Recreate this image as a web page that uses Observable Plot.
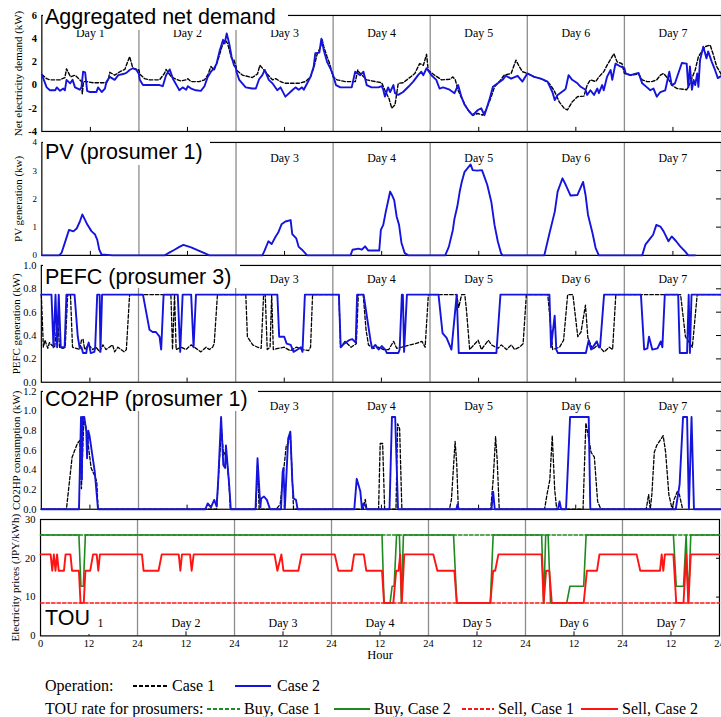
<!DOCTYPE html>
<html><head><meta charset="utf-8">
<script src="https://cdn.jsdelivr.net/npm/d3@7"></script>
<script src="https://cdn.jsdelivr.net/npm/@observablehq/plot@0.6"></script>
<style>
html,body{margin:0;padding:0;background:#fff;width:721px;height:717px;overflow:hidden;}
#chart{position:relative;width:721px;height:717px;overflow:hidden;background:#fff;}
.panel{position:absolute;left:0;}
.ttl{position:absolute;background:#fff;font-family:"Liberation Sans",Arial,sans-serif;font-size:21.5px;line-height:24px;color:#000;white-space:nowrap;box-sizing:border-box;padding-left:2.5px;}
.leg{position:absolute;font-family:"Liberation Serif","Times New Roman",serif;font-size:16px;line-height:20px;height:20px;white-space:nowrap;color:#000;}
.legsw{position:absolute;display:block;}
</style></head><body><div id="chart"></div><script>
// ---------------- data ----------------
const dayNames = ["Day 1","Day 2","Day 3","Day 4","Day 5","Day 6","Day 7"];
const dayCenters = [12,36,60,84,108,132,156];
const daySeparators = [24,48,72,96,120,144];
const xTickHours = [0,12,24,36,48,60,72,84,96,108,120,132,144,156,168];
const xTickLabels = ["0","12","24","12","24","12","24","12","24","12","24","12","24","12","24"];

// Aggregated net demand (kW): [hour, value]
const netCase1 = [[0,0.9],[1.2,0.55],[2,0.45],[4.5,0.45],[5.7,0.65],[6.1,1.4],[7.1,0.7],[8.2,0.85],[9.4,0.45],[9.8,0.3],[10.0,-0.75],[10.3,0.3],[11.1,0.3],[12.7,0.2],[16,0.2],[16.4,0.45],[16.8,1.1],[18,0.85],[19.3,1.15],[20.5,1.35],[21.7,2.45],[22.5,1.45],[24,1.3],
[24.2,0.95],[25.4,0.55],[26.6,0.45],[29.1,0.45],[30.3,1.0],[30.7,1.35],[32,0.7],[33.2,0.5],[34.4,0.35],[35.7,0.45],[36.1,0.55],[36.9,0.3],[38.9,0.3],[40.2,0.45],[41,0.85],[41.8,1.6],[42.6,1.3],[43.4,2.0],[44.5,3.3],[45.3,3.9],[45.9,3.6],[46.9,2.3],[47.5,2.15],[48,1.6],
[48.1,1.3],[49.6,0.85],[52,0.65],[53.3,0.95],[53.9,1.7],[54.9,1.3],[55.7,0.95],[57,0.45],[57.8,0.55],[59,0.3],[60.2,0.15],[63.5,0.15],[65.2,0.3],[66.4,0.7],[67.2,1.45],[68,2.6],[68.9,3.3],[69.3,3.9],[69.7,3.3],[70.5,2.45],[71.1,1.9],[72,0.7],
[73,0.45],[75,0.3],[77.5,0.3],[78.1,1.3],[78.3,1.15],[80.3,0.45],[82.4,0.3],[84,0.2],[84.8,-0.45],[85.8,-1.15],[86.5,-2.0],[87.3,-1.7],[88.1,0.15],[89.3,0.2],[90.6,0.55],[92.2,1.0],[93.4,1.85],[94.3,1.7],[95.1,2.65],[95.5,1.3],[96,1.15],
[97.1,0.85],[98.8,0.45],[100.8,0.5],[101.6,0.7],[102.2,0.45],[102.9,-0.45],[103.8,-1.15],[105.3,-2.15],[106.5,-2.6],[107.8,-2.45],[109,-2.6],[109.8,-2.15],[111.1,-1.0],[111.9,-0.15],[113.1,0.3],[114.3,0.85],[116,1.0],[117.2,2.15],[118,1.6],[118.8,1.15],[120,1.0],
[121.7,0.7],[123.8,0.5],[125.4,0.15],[126.6,-0.45],[127.9,-1.45],[129.1,-2.0],[129.9,-2.15],[131.1,-1.45],[132.4,-1.0],[134,-0.95],[134.8,0],[135.6,0.45],[136.9,0.3],[137.7,0.7],[138.9,1.15],[139.7,1.7],[141.4,2.7],[142.2,2.0],[143.4,1.85],[144,1.0],
[145.5,0.85],[147.5,0.95],[148.4,0.45],[149.6,0.3],[150.8,0.3],[152,0.45],[152.9,0.85],[153.7,1.0],[154.9,0.5],[155.7,0],[157,-0.3],[159.4,-0.4],[160.2,0.15],[161.5,1.3],[162.3,2.45],[163.9,3.3],[165.2,3.45],[166,2.6],[166.8,1.6],[168,0.9]];

const netCase2 = [[0,0.9],[1.2,-0.2],[2,-0.45],[3.3,-0.45],[3.7,-0.2],[4.5,-0.5],[5.3,-0.3],[5.7,-0.45],[6.1,0.45],[7.0,0.15],[7.6,0.45],[8.2,-0.2],[9.4,-0.4],[9.8,-0.2],[10.2,1.15],[10.7,1.1],[11.2,-0.5],[11.9,-0.6],[13.5,-0.6],[13.9,-0.2],[14.8,-0.6],[15.6,-0.3],[16,0.3],[16.8,0.7],[18,0.45],[18.9,0.85],[20.1,0.95],[20.9,1.05],[21.7,1.3],[22.5,1.45],[23.4,1.3],[24,0.95],
[24.2,0.45],[25,0],[29.1,0],[29.9,-0.1],[30.7,0.85],[31.6,1.35],[32.4,0.55],[33.6,-0.2],[34.0,-0.45],[34.8,-0.2],[35.7,-0.4],[36.1,-0.1],[36.9,-0.3],[38.1,-0.45],[39.3,-0.5],[40.2,-0.1],[41,0.7],[41.8,1.15],[42.6,1.45],[43.2,1.85],[44,3.0],[44.8,3.9],[45.2,3.6],[45.7,4.45],[46.3,3.6],[46.9,2.45],[47.5,1.7],[48,1.45],
[48.1,1.15],[48.8,0.45],[50.4,-0.2],[52,-0.3],[52.9,-0.3],[53.7,0.5],[54.5,0.85],[55.1,1.3],[56.1,0.45],[57,0.15],[58.2,-0.45],[59,-0.2],[60.2,-1.0],[61.9,-0.45],[62.7,-0.2],[63.5,-0.4],[64.3,-0.2],[64.75,-0.4],[65.6,0.15],[66.4,0.7],[67.2,1.6],[67.6,2.75],[68.6,2.8],[69.1,4.0],[69.7,3.0],[70.5,2.0],[71.3,1.45],[72,0.85],
[72.7,0],[73.8,-0.2],[76.6,-0.2],[77.45,1.15],[78.7,0.85],[79.5,1.15],[80.3,0],[81.5,-0.2],[83.2,-0.2],[84.0,-0.1],[84.4,-0.4],[84.8,-1.0],[85.6,-0.2],[86.1,-0.6],[86.9,0],[87.3,-0.7],[88.1,-0.85],[89.3,-0.6],[90.6,-0.15],[91.8,0.3],[93.0,0.85],[93.8,1.15],[94.3,0.85],[95.1,1.45],[96,1.0],
[96.3,0.85],[97.5,0.45],[98.3,-0.3],[99.2,-0.2],[100.8,-0.4],[102,-0.7],[102.9,0],[103.7,-1.0],[104.5,-1.7],[105.7,-2.3],[106.5,-2.6],[107.8,-2.15],[108.6,-2.0],[109.4,-2.6],[110.6,-1.3],[111.5,-0.15],[112.7,0.15],[113.9,0.45],[114.7,0.8],[116,0.55],[117.6,0.8],[118.8,0.3],[120,1.0],
[121.7,0.7],[123.35,0.55],[125,0.3],[126.2,-0.6],[126.8,-1.3],[127.5,-0.85],[129.1,-0.45],[129.5,-0.3],[130.2,0.85],[131.1,0.45],[132.4,0.15],[133.2,-0.15],[134.4,-0.4],[134.8,-0.85],[135.6,-0.45],[136.5,-0.85],[137.3,-0.3],[137.7,-0.7],[138.5,0],[138.9,-0.45],[139.7,0.7],[140.6,1.3],[141,0.45],[141.8,1.85],[143,1.6],[144,1.45],
[144.3,1.0],[145.5,0.85],[147.5,1.05],[148.4,0.15],[149.6,-0.2],[150.4,-0.45],[151.2,-0.3],[152,-1.0],[152.9,-0.6],[154.1,-0.45],[155.1,1.15],[155.7,0],[156.5,0.15],[158.2,1.9],[159.4,1.85],[159.8,-0.2],[160.2,1.6],[160.7,-0.4],[161.1,0.45],[161.5,0],[162,1.0],[162.3,-0.15],[162.7,2.15],[163.5,3.3],[164.3,2.3],[164.7,2.9],[165.6,2.0],[166.4,1.3],[167.1,0.6],[168,0.8]];

// PV generation, prosumer 1 (kW)
const pvCase2 = [[0,0],[4.3,0],[4.9,0.1],[5.7,0.45],[6.7,0.9],[7.8,0.85],[8.6,0.95],[9.4,1.2],[10.0,1.45],[10.7,1.25],[11.2,1.1],[12.3,0.85],[13.1,0.75],[13.7,0.55],[14.2,0.2],[14.75,0.03],[17.6,0],
[30.4,0],[31.5,0.1],[32.8,0.2],[34,0.3],[35,0.37],[36.9,0.28],[38.9,0.16],[40.2,0.08],[41.4,0],
[54.5,0],[55.0,0.15],[56.0,0.5],[56.8,0.4],[57.8,0.67],[58.4,0.8],[59.25,1.1],[60.2,1.2],[61.5,1.25],[61.9,0.75],[62.9,0.6],[63.5,0.3],[64.3,0.2],[65.6,0],
[76.3,0],[76.8,0.2],[78.27,0.24],[79.1,0.2],[79.9,0.32],[80.7,0.17],[83.4,0.17],[83.8,0.9],[84.4,1.08],[85,1.53],[85.65,1.96],[86.1,2.26],[86.5,2.15],[87.1,1.96],[87.7,1.38],[88.3,1.08],[88.9,0.44],[89.7,0.08],[90.6,0],
[99.7,0],[100.6,0.3],[101.6,0.9],[102.0,1.3],[102.7,1.73],[103.3,2.26],[103.8,2.6],[104.5,2.96],[105.3,3.1],[106,3.22],[106.5,3.02],[107.6,3.0],[108.8,3.02],[109.4,2.78],[110.1,2.5],[111.1,1.9],[111.9,1.08],[112.7,0.5],[113.5,0.08],[113.9,0],
[124.2,0],[125.4,0.73],[126.8,1.55],[127.5,2.26],[128.7,2.73],[129.5,2.5],[130.7,2.12],[132.4,2.14],[133.8,2.6],[134.4,2.14],[135,1.44],[136.1,0.8],[136.9,0.26],[137.7,0],
[148.4,0],[149.2,0.38],[150.4,0.6],[151.1,0.73],[151.9,1.08],[152.9,1.02],[153.7,0.85],[154.9,0.5],[155.7,0.67],[156.8,0.5],[157.8,0.32],[159,0.14],[159.8,0],[161.5,0]];

// PEFC generation, prosumer 3 (kW)
const pefcCase1 = [[0,0.75],[0.5,0.3],[0.9,0.36],[1.6,0.29],[2.0,0.34],[2.5,0.32],[3.3,0.3],[4.0,0.55],[4.5,0.3],[5.3,0.29],[5.9,0.3],[6.5,0.75],[7.2,0.75],[7.7,0.3],[9.5,0.28],[9.9,0.36],[10.3,0.37],[10.7,0.28],[11.7,0.32],[12.7,0.28],[13.5,0.3],[14.4,0.26],[15.2,0.32],[16.0,0.28],[16.8,0.3],[17.6,0.32],[18.1,0.26],[18.9,0.3],[19.7,0.28],[20.5,0.26],[21.0,0.28],[21.8,0.75],
[32.0,0.75],[32.4,0.28],[32.9,0.75],[33.3,0.28],[34.5,0.3],[35.7,0.28],[37.0,0.32],[38.2,0.29],[39.4,0.26],[40.7,0.3],[41.5,0.28],[42.3,0.3],[42.7,0.33],[43.5,0.75],
[50.5,0.75],[50.9,0.39],[52.2,0.32],[53.4,0.3],[54.3,0.29],[54.9,0.75],[55.3,0.75],[55.8,0.28],[56.5,0.3],[56.9,0.75],[57.3,0.28],[58.5,0.29],[60.0,0.3],[61.5,0.27],[63.0,0.3],[64.5,0.28],[66.0,0.27],[66.5,0.3],[67.0,0.75],
[73.5,0.75],[73.9,0.3],[75.0,0.35],[76.5,0.3],[77.8,0.33],[78.3,0.75],[79.5,0.75],[80.2,0.45],[80.8,0.32],[82.0,0.29],[83.3,0.3],[84.5,0.28],[85.8,0.28],[87.0,0.35],[87.8,0.29],[89.0,0.3],[91.1,0.32],[92.4,0.33],[94.0,0.35],[94.8,0.3],[95.6,0.75],
[102.6,0.75],[103.1,0.64],[103.8,0.75],[104.6,0.75],[105.0,0.62],[105.8,0.28],[107.9,0.36],[108.7,0.28],[110.4,0.36],[111.2,0.32],[112.8,0.29],[113.6,0.32],[114.9,0.28],[116.1,0.32],[116.9,0.28],[118.1,0.3],[119.0,0.33],[119.8,0.75],
[125.1,0.75],[126.3,0.28],[128.0,0.3],[129.0,0.36],[130.0,0.75],[131.3,0.75],[132.5,0.39],[133.3,0.43],[134.4,0.66],[135.0,0.38],[136.2,0.28],[137.4,0.32],[139.0,0.26],[140.3,0.3],[141.1,0.28],[141.9,0.75],
[157.9,0.75],[159.1,0.39],[160.8,0.3],[162.0,0.75],[168,0.75]];

const pefcCase2 = [[0,0.75],[2.5,0.75],[3.0,0.3],[3.5,0.75],[3.9,0.3],[4.3,0.75],[4.8,0.3],[5.75,0.3],[6.2,0.75],[8.2,0.75],[9.0,0.39],[9.45,0.3],[9.9,0.3],[10.3,0.25],[11.1,0.25],[11.3,0.3],[11.7,0.34],[12.2,0.25],[13.1,0.26],[13.3,0.3],[13.8,0.75],[14.4,0.75],[14.6,0.26],[15.0,0.75],
[25.1,0.75],[25.9,0.6],[26.7,0.45],[27.5,0.43],[28.3,0.43],[29.2,0.39],[29.6,0.28],[30.2,0.75],[33.7,0.75],[34.3,0.26],[34.9,0.75],[37.0,0.75],[37.6,0.3],[38.2,0.75],
[58.3,0.75],[58.75,0.39],[60.0,0.39],[60.6,0.33],[61.6,0.32],[62.3,0.26],[63.3,0.28],[64.1,0.3],[64.5,0.26],[65.1,0.75],
[73.5,0.75],[73.95,0.3],[74.8,0.33],[76.0,0.36],[76.8,0.37],[77.65,0.34],[78.0,0.75],[79.6,0.75],[81.3,0.36],[81.7,0.29],[82.5,0.32],[83.3,0.28],[84.1,0.31],[84.95,0.28],[85.35,0.25],[88.2,0.25],[88.5,0.28],[89.05,0.75],[89.3,0.75],[89.6,0.26],[90.3,0.75],
[98.1,0.75],[99.1,0.42],[100.1,0.38],[101.3,0.28],[102.6,0.75],[103.1,0.25],[112.4,0.25],[113.4,0.75],
[125.5,0.75],[125.9,0.3],[126.8,0.57],[127.2,0.28],[127.6,0.25],[134.5,0.25],[135.2,0.36],[135.8,0.28],[137.2,0.35],[137.7,0.3],[138.0,0.3],[139.0,0.75],
[148.1,0.75],[148.9,0.28],[149.7,0.29],[150.1,0.39],[150.9,0.28],[152.2,0.29],[153.0,0.35],[153.4,0.3],[154.0,0.75],[157.3,0.75],[157.7,0.25],[159.5,0.25],[159.9,0.75],[160.2,0.25],[160.6,0.75],[168,0.75]];

// CO2HP consumption, prosumer 1 (kW)
const hpCase1 = [[0,0],[6.2,0],[7.6,0.53],[8.9,0.67],[9.5,0.7],[9.9,0.21],[10.5,0.92],[11.1,0.82],[12.3,0.42],[13.1,0.35],[13.7,0.28],[14.0,0],
[43.3,0],[44.0,0.5],[44.5,0.82],[45.0,0.55],[45.6,0.6],[46.3,0.3],[46.7,0],
[53.0,0],[53.4,0.45],[53.8,0],[58.0,0],[59.0,0.05],[60.5,0.65],[61.0,0.67],[61.5,0.79],[62.3,0],
[79.5,0],[80.0,0.1],[80.4,0],[83.3,0],[83.7,0.67],[84.3,0.67],[84.8,0],[87.6,0],[88.0,0.87],[88.5,0.82],[89.05,0],
[100.8,0],[101.3,0.1],[102.2,0.69],[102.6,0.47],[103.0,0],[111.0,0],[111.6,0.3],[112.2,0.74],[112.6,0.5],[113.1,0],
[124.3,0],[124.9,0.15],[125.6,0.3],[126.2,0.75],[126.8,0.2],[127.3,0],[133.8,0],[134.5,0.88],[135.8,0.58],[136.6,0.53],[137.4,0.08],[138.2,0],
[149.4,0],[150.0,0.15],[150.4,0],[150.8,0.15],[151.4,0.58],[152.0,0.65],[152.8,0.7],[153.6,0.75],[154.2,0.58],[155.0,0.15],[155.8,0],[156.3,0.1],[157.1,0.18],[157.6,0.15],[158.4,0]];

const hpCase2 = [[0,0],[9.3,0],[9.8,0.94],[10.0,0.3],[10.2,0.94],[10.6,0.94],[11.1,0.8],[11.3,0.52],[11.6,0.8],[11.9,0.75],[12.5,0.58],[13.2,0.38],[14.0,0],
[40.5,0],[41.1,0.06],[41.9,0.02],[42.7,0.095],[43.3,0.03],[43.7,0.3],[44.4,0.94],[44.95,0.45],[45.4,0.42],[45.6,0.65],[46.0,0.45],[46.4,0.25],[46.8,0],
[52.9,0],[53.4,0.52],[54.1,0.02],[54.3,0.11],[55.0,0.13],[55.7,0.095],[56.5,0],[59.2,0],[59.6,0.38],[59.8,0.42],[60.15,0.01],[60.97,0.72],[61.5,0.79],[62.0,0.28],[62.3,0.11],[62.9,0.095],[63.3,0],
[77.3,0],[77.9,0.31],[78.8,0.18],[79.2,0],[79.6,0.06],[80.0,0.04],[80.4,0],[86.0,0],[86.6,0.94],[87.4,0.94],[88.1,0],
[102.5,0],[102.8,0.05],[103.1,0],[111.2,0],[111.6,0.18],[112.0,0],
[127.6,0],[128,0.08],[128.4,0],[129.6,0],[130.6,0.94],[135.2,0.94],[135.6,0],
[156.7,0],[157.65,0.25],[158.5,0.94],[159.5,0.94],[159.95,0],[160.6,0.94],[161.2,0],[168,0]];

// TOU electricity prices (JPY/kWh)
const buyCase1 = [[0,26],[168,26]];
const sellCase1 = [[0,8.5],[168,8.5]];
const buyCase2 = [[0,26],[9.5,26],[10.0,12.8],[10.6,12.8],[11.1,26],[84.5,26],[85.0,8.5],[86.5,8.5],[87.0,12.8],[87.5,12.8],[88.1,26],[88.8,26],[89.3,8.5],[89.8,26],
[102.2,26],[103.0,8.5],[111.3,8.5],[112.0,26],[124.0,26],[124.5,8.5],[125.0,26],[125.6,26],[126.2,8.5],[130.2,8.5],[131.0,12.8],[134.4,12.8],[135.0,26],
[156.6,26],[157.3,12.8],[159.1,12.8],[159.75,26],[160.3,8.5],[160.9,26],[168,26]];
const sellCase2 = [[0,21],[2.5,21],[2.9,16.8],[3.3,21],[3.7,16.8],[4.1,21],[4.5,16.8],[5.8,16.8],[6.2,21],[7.4,21],[7.8,16.8],[9.5,16.8],[9.9,8.5],[10.7,8.5],[11.1,16.8],[12.3,16.8],[13.0,21],[13.9,21],[14.3,16.8],[14.7,21],
[25.1,21],[25.5,16.8],[29.2,16.8],[30.0,21],[34.2,21],[34.6,16.8],[35.0,21],[37.0,21],[37.4,16.8],[37.9,21],
[57.9,21],[58.6,16.8],[59.6,21],[60.1,16.8],[63.8,16.8],[64.6,21],[72.8,21],[73.7,16.8],[77.0,16.8],[77.6,21],[80.0,21],[80.6,16.8],[84.5,16.8],[85.0,8.5],[87.3,8.5],[88.0,16.8],[88.6,16.8],[89.0,21],[89.4,8.5],[90.0,21],
[97.2,21],[98.2,16.8],[102.4,16.8],[103.0,8.5],[111.3,8.5],[112.0,16.8],[112.5,16.8],[113.3,21],[124.0,21],[124.5,8.5],[125.1,16.8],[125.9,16.8],[126.5,8.5],[134.4,8.5],[135.2,16.8],[137.7,16.8],[138.3,21],
[147.5,21],[148.4,16.8],[153.3,16.8],[153.7,21],[154.1,16.8],[154.5,21],[156.6,21],[157.3,8.5],[159.1,8.5],[159.75,21],[160.3,8.5],[160.9,21],[168,21]];

const legendOperationHead = "Operation:";
const legendOperation = ["Case 1","Case 2"];
const legendTouHead = "TOU rate for prosumers:";
const legendTou = ["Buy, Case 1","Buy, Case 2","Sell, Case 1","Sell, Case 2"];

// ---------------- styles ----------------
const BLUE = "#1414dc", BLACK = "#000", GREEN = "#1f8a1f", RED = "#ff1414";
const rows = pairs => pairs.map(([h, v]) => ({h, v}));
const chart = document.getElementById("chart");
const FONT = "'Liberation Serif','Times New Roman',serif";

function makePanel(cfg) {
  const mt = 12, mb = cfg.mb ?? 6;
  const height = cfg.frameBottom - cfg.frameTop + mt + mb;
  const [y0, y1] = cfg.yDomain;
  const span = y1 - y0;
  const xRight = cfg.xRight ?? 724;
  const pxPerHour = (xRight - cfg.xLeft) / 168;
  const shown = dayNames.map((d, i) => i).filter(i => !(cfg.hiddenDays || []).includes(i));
  const marks = [
    Plot.ruleX(daySeparators, {x: d => d, stroke: "#8c8c8c", strokeWidth: 1.3}),
    Plot.ruleX(dayCenters, {x: d => d, y1: y0, y2: y0 + span * 0.035, stroke: "#000", strokeWidth: 1}),
    Plot.ruleY(cfg.rightTicks || [], {y: d => d, x1: 168 - cfg.rightTickPx / pxPerHour, x2: 168, stroke: "#000", strokeWidth: 1}),
    Plot.frame({stroke: "#000", strokeWidth: 1.2}),
    Plot.text(cfg.yTicks, {y: d => d, frameAnchor: "left", dx: -5, textAnchor: "end", lineAnchor: "middle", text: cfg.fmt, fontSize: cfg.tickFont, fontWeight: cfg.bold ? "bold" : "normal", fill: "#000"}),
    Plot.text([cfg.yLabel], {frameAnchor: "left", rotate: -90, dx: cfg.labelDx, textAnchor: "middle", lineAnchor: "middle", text: d => d, fontSize: 11, fill: "#000"}),
    Plot.text(shown, {x: i => dayCenters[i], frameAnchor: cfg.dayAnchor, dy: cfg.dayDy, textAnchor: "middle", lineAnchor: "middle", text: i => dayNames[i], fontSize: 12, fill: "#000"}),
    ...cfg.lines.map(l => Plot.line(rows(l.data), {x: "h", y: "v", stroke: l.stroke, strokeWidth: l.width, strokeDasharray: l.dash, curve: "linear"})),
    ...(cfg.extra || [])
  ];
  const svg = Plot.plot({
    width: cfg.width ?? 724,
    height,
    marginLeft: cfg.xLeft,
    marginRight: (cfg.width ?? 724) - xRight,
    marginTop: mt,
    marginBottom: mb,
    x: {domain: [0, 168], axis: null, label: null},
    y: {domain: cfg.yDomain, axis: null, label: null},
    style: {fontFamily: FONT, overflow: "visible", background: "transparent", color: "#000"},
    marks
  });
  const div = document.createElement("div");
  div.className = "panel";
  div.style.top = (cfg.frameTop - mt) + "px";
  div.appendChild(svg);
  chart.appendChild(div);
}

function addTitle(text, left, top, width, height, padTop) {
  const d = document.createElement("div");
  d.className = "ttl";
  d.style.left = left + "px"; d.style.top = top + "px";
  d.style.width = width + "px"; d.style.height = height + "px";
  d.style.paddingTop = padTop + "px";
  d.textContent = text;
  chart.appendChild(d);
}

const f1 = d3.format(".1f");
// Panel 1: Aggregated net demand
makePanel({frameTop: 15, frameBottom: 131.5, xLeft: 41.5, yDomain: [-4, 6], yTicks: [-4,-2,0,2,4,6], fmt: d => String(d), tickFont: 10.5, bold: true,
  yLabel: "Net electricity demand (kW)", labelDx: -23.5, dayAnchor: "top", dayDy: 17.3, rightTicks: [], rightTickPx: 5,
  lines: [{data: netCase1, stroke: BLACK, width: 1.4, dash: "3.5,2"}, {data: netCase2, stroke: BLUE, width: 1.9}]});
// Panel 2: PV
makePanel({frameTop: 142.3, frameBottom: 255.7, xLeft: 41.5, yDomain: [0, 4], yTicks: [0,1,2,3,4], fmt: d => String(d), tickFont: 9,
  yLabel: "PV generation (kw)", labelDx: -23, dayAnchor: "top", dayDy: 16, rightTicks: [1,2,3], rightTickPx: 5, hiddenDays: [0,1],
  lines: [{data: pvCase2, stroke: BLUE, width: 1.9}]});
// Panel 3: PEFC
makePanel({frameTop: 265, frameBottom: 382.3, xLeft: 41, yDomain: [0, 1], yTicks: [0,0.2,0.4,0.6,0.8,1.0], fmt: f1, tickFont: 10.5,
  yLabel: "PEFC generation (kW)", labelDx: -25, dayAnchor: "top", dayDy: 13.3, rightTicks: [0.2,0.4,0.6,0.8], rightTickPx: 5, hiddenDays: [0,1],
  lines: [{data: pefcCase1, stroke: BLACK, width: 1.3, dash: "3.5,2"}, {data: pefcCase2, stroke: BLUE, width: 1.9}]});
// Panel 4: CO2HP
makePanel({frameTop: 391, frameBottom: 509.3, xLeft: 41, yDomain: [0, 1.2], yTicks: [0,0.2,0.4,0.6,0.8,1.0,1.2], fmt: f1, tickFont: 10.5,
  yLabel: "CO2HP consumption (kW)", labelDx: -25, dayAnchor: "top", dayDy: 14.7, rightTicks: [0.2,0.4,0.6,0.8,1.0], rightTickPx: 5, hiddenDays: [0,1],
  lines: [{data: hpCase1, stroke: BLACK, width: 1.3, dash: "3.5,2"}, {data: hpCase2, stroke: BLUE, width: 1.9}]});
// Panel 5: TOU
makePanel({frameTop: 519.3, frameBottom: 635.7, xLeft: 40, xRight: 719, width: 721, mb: 30, yDomain: [0, 30], yTicks: [0,10,20,30], fmt: d => String(d), tickFont: 10.5,
  yLabel: "Electricity prices (JPY/kWh)", labelDx: -25, dayAnchor: "bottom", dayDy: -12.7, rightTicks: [10,20], rightTickPx: 3,
  lines: [{data: buyCase1, stroke: GREEN, width: 1.5, dash: "3.5,2"}, {data: sellCase1, stroke: RED, width: 1.5, dash: "3.5,2"},
          {data: buyCase2, stroke: GREEN, width: 1.6}, {data: sellCase2, stroke: RED, width: 1.9}],
  extra: [
    Plot.text(xTickHours, {x: d => d, frameAnchor: "bottom", dy: 7.5, lineAnchor: "middle", textAnchor: "middle", text: (d, i) => xTickLabels[i], fontSize: 10.5, fill: "#000"}),
    Plot.text(["Hour"], {frameAnchor: "bottom", dy: 19, lineAnchor: "middle", textAnchor: "middle", text: d => d, fontSize: 12.5, fill: "#000"})
  ]});

addTitle("Aggregated net demand", 42.5, 0, 245.5, 30, 4.5);
addTitle("PV (prosumer 1)", 42.5, 136, 167.5, 29, 3.5);
addTitle("PEFC (prosumer 3)", 42.5, 258, 197.5, 30, 6.5);
addTitle("CO2HP (prosumer 1)", 42.5, 385, 215.5, 26, 2.2);
addTitle("TOU", 42.5, 605, 52.5, 29, 0.5);

// ---------------- legend ----------------
function swatch(color, dash, x0, x1, top) {
  const ns = "http://www.w3.org/2000/svg";
  const w = x1 - x0;
  const s = document.createElementNS(ns, "svg");
  s.setAttribute("class", "legsw");
  s.setAttribute("width", w); s.setAttribute("height", 10);
  s.style.left = x0 + "px"; s.style.top = top + "px";
  const l = document.createElementNS(ns, "line");
  l.setAttribute("x1", 0); l.setAttribute("x2", w); l.setAttribute("y1", 5); l.setAttribute("y2", 5);
  l.setAttribute("stroke", color); l.setAttribute("stroke-width", 2);
  if (dash) l.setAttribute("stroke-dasharray", dash);
  s.appendChild(l);
  chart.appendChild(s);
}
function label(text, x, top) {
  const t = document.createElement("div");
  t.className = "leg"; t.textContent = text;
  t.style.left = x + "px"; t.style.top = top + "px";
  chart.appendChild(t);
}
// row 1
label(legendOperationHead, 45, 676);
swatch(BLACK, "4,2", 133, 169, 681);
label(legendOperation[0], 172, 676);
swatch(BLUE, null, 235, 271, 681);
label(legendOperation[1], 277, 676);
// row 2
label(legendTouHead, 45, 699);
swatch(GREEN, "4,2", 207, 240, 704);
label(legendTou[0], 244, 699);
swatch(GREEN, null, 334, 370, 704);
label(legendTou[1], 374, 699);
swatch(RED, "4,2", 462, 494, 704);
label(legendTou[2], 498, 699);
swatch(RED, null, 581, 618, 704);
label(legendTou[3], 622, 699);
</script></body></html>
